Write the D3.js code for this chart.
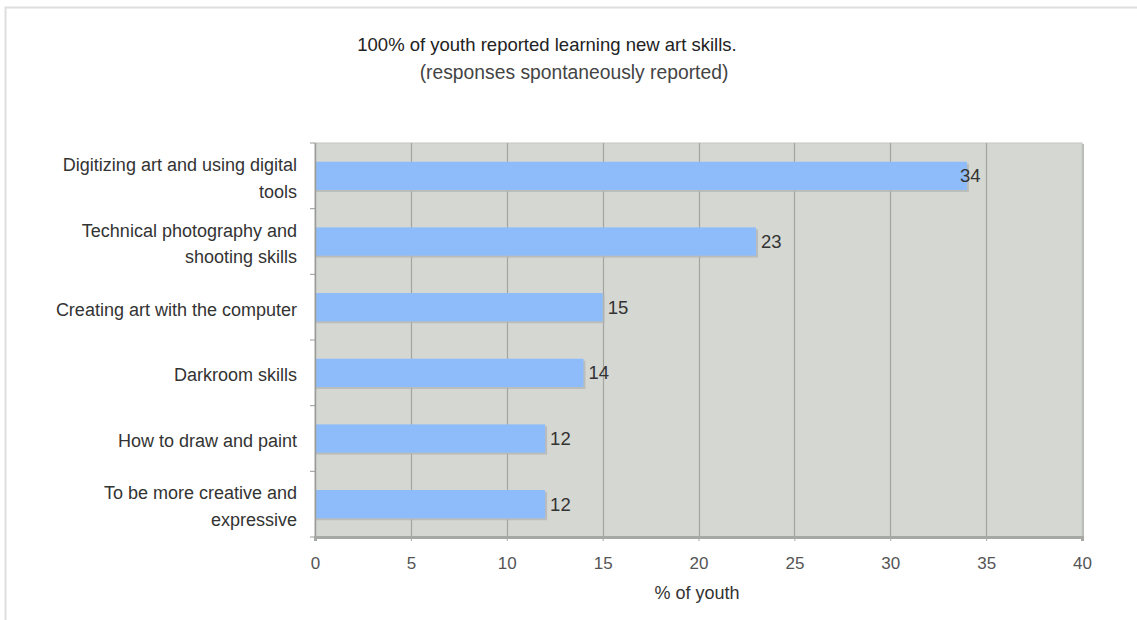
<!DOCTYPE html>
<html>
<head>
<meta charset="utf-8">
<script src="https://cdn.jsdelivr.net/npm/d3@7"></script>
<style>
  html, body { margin: 0; padding: 0; background: #fff; }
  svg { display: block; font-family: "Liberation Sans", Arial, Helvetica, sans-serif; }
</style>
</head>
<body>
<svg id="chart" width="1137" height="620"></svg>
<script>
// Survey results: share of youth naming each art skill they learned
const categories = [
  "Digitizing art and using digital tools",
  "Technical photography and shooting skills",
  "Creating art with the computer",
  "Darkroom skills",
  "How to draw and paint",
  "To be more creative and expressive"
];
// Wrapped category labels as they appear on the axis
const categoryLines = [
  ["Digitizing art and using digital", "tools"],
  ["Technical photography and", "shooting skills"],
  ["Creating art with the computer"],
  ["Darkroom skills"],
  ["How to draw and paint"],
  ["To be more creative and", "expressive"]
];
const values = [34, 23, 15, 14, 12, 12];
const xTicks = [0, 5, 10, 15, 20, 25, 30, 35, 40];

const titleText = "100% of youth reported learning new art skills.";
const subtitleText = "(responses spontaneously reported)";
const xTitle = "% of youth";

const svg = d3.select("#chart");
const W = 1137, H = 620;
const margin = { left: 315, top: 143, right: W - 1082, bottom: H - 537 };
const plotW = W - margin.left - margin.right;
const plotH = H - margin.top - margin.bottom;

// Outer frame (only top and left edges fall inside the view)
svg.append("path")
  .attr("d", `M5.5,${H} L5.5,7.5 L${W},7.5`)
  .attr("fill", "none")
  .attr("stroke", "#dedede")
  .attr("stroke-width", 2);

// Titles
svg.append("text")
  .attr("x", 547).attr("y", 51)
  .attr("text-anchor", "middle")
  .attr("font-size", 18.5)
  .attr("fill", "#222")
  .text(titleText);
svg.append("text")
  .attr("x", 574).attr("y", 79)
  .attr("text-anchor", "middle")
  .attr("font-size", 19.3)
  .attr("fill", "#444")
  .text(subtitleText);

const x = d3.scaleLinear().domain([0, 40]).range([0, plotW]);
const y = d3.scaleBand().domain(categories).range([0, plotH])
  .paddingInner(0.57).paddingOuter(0.285);

const g = svg.append("g").attr("transform", `translate(${margin.left},${margin.top})`);

// Plot background with a faint shadow on the right/bottom
g.append("rect")
  .attr("x", 2).attr("y", 1)
  .attr("width", plotW).attr("height", plotH)
  .attr("fill", "#b9bbb6");
g.append("rect")
  .attr("width", plotW).attr("height", plotH)
  .attr("fill", "#d5d7d2")
  .attr("stroke", "#c4c6c1")
  .attr("stroke-width", 1);

// Vertical gridlines
g.selectAll(".grid")
  .data(xTicks.filter(t => t > 0 && t < 40))
  .join("line")
  .attr("class", "grid")
  .attr("x1", d => Math.round(x(d)) + 0.5)
  .attr("x2", d => Math.round(x(d)) + 0.5)
  .attr("y1", 0).attr("y2", plotH)
  .attr("stroke", "#a2a4a0")
  .attr("stroke-width", 1.2);

const rows = values.map((v, i) => ({ v, c: categories[i] }));

// Bar shadows
g.selectAll(".barshadow").data(rows)
  .join("rect")
  .attr("class", "barshadow")
  .attr("x", 0)
  .attr("y", d => y(d.c) + 2)
  .attr("width", d => x(d.v) + 2)
  .attr("height", y.bandwidth())
  .attr("fill", "#b3b6b6")
  .attr("opacity", 0.8);
// Bars
g.selectAll(".barfill").data(rows)
  .join("rect")
  .attr("class", "barfill")
  .attr("x", 0)
  .attr("y", d => y(d.c))
  .attr("width", d => x(d.v))
  .attr("height", y.bandwidth())
  .attr("fill", "#8ebcfa");

// Value labels (the longest bar's label sits across its end)
const maxV = d3.max(values);
g.selectAll(".val").data(rows)
  .join("text")
  .attr("class", "val")
  .attr("x", d => x(d.v) + (d.v === maxV ? -7 : 5))
  .attr("y", d => y(d.c) + y.bandwidth() / 2)
  .attr("dy", "0.36em")
  .attr("font-size", 18.5)
  .attr("fill", "#333")
  .text(d => d.v);

// Left axis line and band ticks
g.append("line")
  .attr("x1", 0.5).attr("x2", 0.5).attr("y1", 0).attr("y2", plotH)
  .attr("stroke", "#9a9c98").attr("stroke-width", 1.5);
const bandEdges = d3.range(categories.length + 1).map(i => i * y.step());
g.selectAll(".ytick").data(bandEdges)
  .join("line")
  .attr("x1", -5).attr("x2", 0)
  .attr("y1", d => d).attr("y2", d => d)
  .attr("stroke", "#9a9c98");

// Bottom axis
const xAxis = g.append("g")
  .attr("transform", `translate(0,${plotH})`)
  .call(d3.axisBottom(x).tickValues(xTicks).tickSize(4).tickPadding(16));
xAxis.select(".domain").attr("stroke", "#a6a8a4").attr("stroke-width", 3);
xAxis.selectAll(".tick line").attr("stroke", "#a6a8a4");
xAxis.selectAll(".tick text")
  .attr("font-size", 17)
  .attr("font-family", "Liberation Sans, Arial, sans-serif")
  .attr("fill", "#555");

// Category labels
const yl = g.selectAll(".ylab").data(categories)
  .join("text")
  .attr("class", "ylab")
  .attr("text-anchor", "end")
  .attr("font-size", 18)
  .attr("fill", "#333")
  .attr("transform", d => `translate(-18,${y(d) + y.bandwidth() / 2 + 2})`);
yl.each(function(d, i) {
  const lines = categoryLines[i];
  const lh = 26.5;
  d3.select(this).selectAll("tspan").data(lines)
    .join("tspan")
    .attr("x", 0)
    .attr("y", (l, j) => (j - (lines.length - 1) / 2) * lh)
    .attr("dy", "0.36em")
    .text(l => l);
});

// X axis title
svg.append("text")
  .attr("x", 697).attr("y", 599)
  .attr("text-anchor", "middle")
  .attr("font-size", 18)
  .attr("fill", "#333")
  .text(xTitle);
</script>
</body>
</html>
